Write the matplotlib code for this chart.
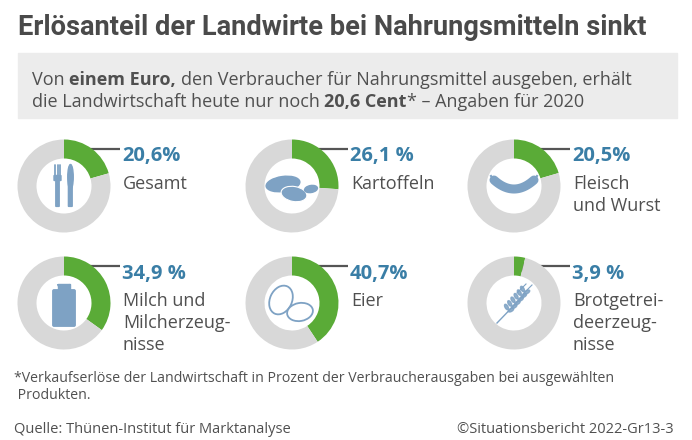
import matplotlib
matplotlib.use("Agg")
import matplotlib.pyplot as plt
import matplotlib.patches as patches
from matplotlib import font_manager
import numpy as np

# --- data ---
categories = [["Gesamt"], ["Kartoffeln"], ["Fleisch", "und Wurst"],
              ["Milch und", "Milcherzeug-", "nisse"], ["Eier"], ["Brotgetrei-", "deerzeug-", "nisse"]]
shares = [20.6, 26.1, 20.5, 34.9, 40.7, 3.9]
share_labels = ["20,6%", "26,1 %", "20,5%", "34,9 %", "40,7%", "3,9 %"]

title = "Erlösanteil der Landwirte bei Nahrungsmitteln sinkt"
footnote = ["*Verkaufserlöse der Landwirtschaft in Prozent der Verbraucherausgaben bei ausgewählten",
            " Produkten."]
source = "Quelle: Thünen-Institut für Marktanalyse"
copyright_txt = "©Situationsbericht 2022-Gr13-3"

GREEN = "#5aab37"
GRAY = "#d8d8d8"
BLUE = "#3a7ea6"
ICON = "#7ea2c4"
DARK = "#4a4a4a"
TXT = "#505050"

W, H = 692, 440


def pick_font(cands):
    names = {f.name for f in font_manager.fontManager.ttflist}
    for c in cands:
        if c in names:
            return c
    return "DejaVu Sans"


TITLE_FONT = pick_font(["Liberation Sans Narrow", "Roboto", "Open Sans"])
BODY_FONT = pick_font(["Open Sans", "Noto Sans", "DejaVu Sans"])

fig = plt.figure(figsize=(W / 100, H / 100), dpi=100)
fig.patch.set_facecolor("white")
bg = fig.add_axes([0, 0, 1, 1])
bg.set_xlim(0, W)
bg.set_ylim(H, 0)
bg.axis("off")

# title
bg.text(18, 35, title, fontsize=22 if TITLE_FONT == "Liberation Sans Narrow" else 19.6,
        fontweight="bold", color=DARK, family=TITLE_FONT, va="baseline", ha="left")

# subtitle box
bg.add_patch(patches.Rectangle((18, 53), 659, 65, color="#ececec", zorder=0))
renderer = fig.canvas.get_renderer()


def text_runs(x, y, parts, size):
    probe = bg.text(0, 0, "x x", fontsize=size, family=BODY_FONT)
    probe2 = bg.text(0, 0, "xx", fontsize=size, family=BODY_FONT)
    space = probe.get_window_extent(renderer).width - probe2.get_window_extent(renderer).width
    probe.remove()
    probe2.remove()
    for s, w in parts:
        if s == " ":
            x += space
            continue
        t = bg.text(x, y, s, fontsize=size, fontweight=w, family=BODY_FONT,
                    color=TXT, va="baseline", ha="left")
        x += t.get_window_extent(renderer).width


text_runs(32, 85, [("Von", "normal"), (" ", None), ("einem Euro,", "bold"), (" ", None),
                   ("den Verbraucher für Nahrungsmittel ausgeben, erhält", "normal")], 13)
text_runs(32, 107, [("die Landwirtschaft heute nur noch", "normal"), (" ", None),
                    ("20,6 Cent", "bold"), ("* – Angaben für 2020", "normal")], 13)

# donuts
centers_x = [64, 292, 514]
centers_y = [186, 303]
R_OUT, RING = 46.5, 19

for i, (val, lab, cat) in enumerate(zip(shares, share_labels, categories)):
    cx = centers_x[i % 3]
    cy = centers_y[i // 3]
    ax = fig.add_axes([(cx - R_OUT) / W, 1 - (cy + R_OUT) / H, 2 * R_OUT / W, 2 * R_OUT / H])
    ax.pie([val, 100 - val], colors=[GREEN, GRAY], startangle=90, counterclock=False,
           radius=1, wedgeprops=dict(width=RING / R_OUT, edgecolor="none"))
    ax.set_xlim(-1, 1)
    ax.set_ylim(-1, 1)
    ax.axis("off")

    # leader
    dx, dy = cx + 7, cy - 37
    bg.plot([dx, cx + 56], [dy, dy], color="#555555", lw=1.6, zorder=3, solid_capstyle="butt")
    bg.plot(dx, dy, "o", ms=6, color="#555555", zorder=4)
    bg.text(cx + 58, dy + 12.5, lab, fontsize=14.5, fontweight="bold", color=BLUE,
            family=BODY_FONT, va="baseline", ha="left")
    for k, line in enumerate(cat):
        bg.text(cx + 59, dy + 40 + 22 * k, line, fontsize=13, color=TXT, family=BODY_FONT,
                va="baseline", ha="left")

# --- icons ---
# fork and knife
cx, cy = centers_x[0], centers_y[0]
for tx in [cx - 9, cx - 6.5, cx - 4]:
    bg.plot([tx, tx], [cy - 21, cy - 8], color=ICON, lw=1.3, solid_capstyle="round")
bg.add_patch(patches.FancyBboxPatch((cx - 9.5, cy - 10), 6, 4, boxstyle="round,pad=0.5", color=ICON))
bg.add_patch(patches.FancyBboxPatch((cx - 7.8, cy - 8), 2.6, 28, boxstyle="round,pad=0.4", color=ICON))
bg.add_patch(patches.Ellipse((cx + 6.5, cy - 9), 5.5, 25, color=ICON))
bg.add_patch(patches.FancyBboxPatch((cx + 4.8, cy - 5), 3, 25, boxstyle="round,pad=0.4", color=ICON))

# potatoes
cx, cy = centers_x[1], centers_y[0]
bg.add_patch(patches.Ellipse((cx - 9, cy - 2), 34, 15, angle=-8, color=ICON))
bg.add_patch(patches.Ellipse((cx + 2, cy + 8), 26, 15, angle=10, color=ICON, ec="white", lw=0.8))
bg.add_patch(patches.Ellipse((cx + 19, cy + 3), 13, 7, angle=-10, color=ICON))

# sausage
cx, cy = centers_x[2], centers_y[0]
t = np.linspace(-1, 1, 40)
bg.plot(cx + 20 * t, cy - 4 + 9 * (1 - t ** 2) - 2, color=ICON, lw=6.5, solid_capstyle="round")
bg.plot([cx - 21, cx - 23], [cy - 7, cy - 10], color=ICON, lw=1.5)
bg.plot([cx + 21, cx + 23], [cy - 7, cy - 10], color=ICON, lw=1.5)

# milk can
cx, cy = centers_x[0], centers_y[1]
bg.add_patch(patches.FancyBboxPatch((cx - 10, cy - 12), 20, 34, boxstyle="round,pad=1.2", color=ICON))
bg.add_patch(patches.Rectangle((cx - 6, cy - 19), 12, 8, color=ICON))
bg.add_patch(patches.Arc((cx, cy - 19), 12, 8, theta1=0, theta2=180, color=ICON, lw=1.5))

# eggs
cx, cy = centers_x[1], centers_y[1]
bg.add_patch(patches.Ellipse((cx - 11, cy - 3), 22, 30, angle=25, fc="white", ec=ICON, lw=1.3))
bg.add_patch(patches.Ellipse((cx + 8, cy + 9), 26, 18, angle=-10, fc="white", ec=ICON, lw=1.3))

# wheat
cx, cy = centers_x[2], centers_y[1]
bg.plot([cx - 17, cx + 10], [cy + 20, cy - 8], color=ICON, lw=1.0)
for k in range(6):
    px = cx - 5 + k * 3.2
    py = cy + 5 - k * 3.6
    bg.add_patch(patches.Ellipse((px - 2.5, py - 1), 3, 6, angle=-30, color=ICON, alpha=0.85))
    bg.add_patch(patches.Ellipse((px + 2, py + 2), 3, 6, angle=60, color=ICON, alpha=0.85))
bg.plot([cx + 9, cx + 18], [cy - 9, cy - 18], color=ICON, lw=0.8)
bg.plot([cx + 3, cx + 12], [cy - 10, cy - 19], color=ICON, lw=0.8)

# footer
for k, line in enumerate(footnote):
    bg.text(14, 382 + 17 * k, line, fontsize=10.2, color=TXT, family=BODY_FONT,
            va="baseline", ha="left")
bg.text(14, 433, source, fontsize=10.5, color=TXT, family=BODY_FONT, va="baseline", ha="left")
bg.text(674, 433, copyright_txt, fontsize=10.5, color=TXT, family=BODY_FONT, va="baseline", ha="right")

fig.savefig("out.png", dpi=100)
